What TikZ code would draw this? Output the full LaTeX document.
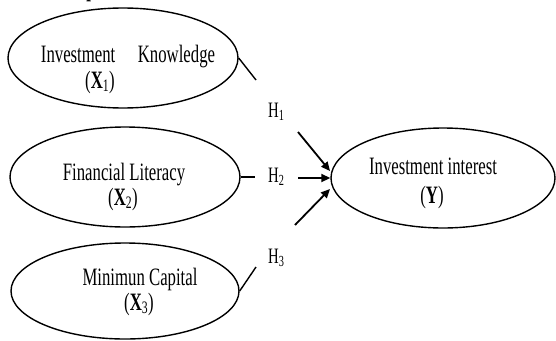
\documentclass[tikz,border=0pt]{standalone}
\usepackage{fontspec}
\setmainfont{Liberation Serif}[FakeStretch=0.67]
\usetikzlibrary{arrows.meta,shapes.geometric}
\begin{document}
\begin{tikzpicture}[x=1pt,y=-1pt,
  var/.style={draw, ellipse, line width=1.4pt, inner sep=0pt},
  lbl/.style={anchor=base, inner sep=0pt, font=\fontsize{25}{26}\selectfont},
  hyp/.style={anchor=base west, inner sep=0pt, font=\fontsize{22}{24}\selectfont},
  arr/.style={line width=1.8pt, -{Triangle[length=9pt,width=8pt]}},
  seg/.style={line width=1.4pt}]
\useasboundingbox (0,0) rectangle (556,340);
\clip (0,0) rectangle (556,340);
% cropped heading fragment
\node[anchor=base, inner sep=0pt, font=\fontsize{25}{26}\selectfont\bfseries] (pfrag) at (91,-3) {p};
% ellipses
\node[var, minimum width=230pt, minimum height=100pt] (x1) at (123,58) {};
\node[var, minimum width=230pt, minimum height=100pt] (x2) at (125,177) {};
\node[var, minimum width=228pt, minimum height=96pt] (x3) at (125,291) {};
\node[var, minimum width=224pt, minimum height=100pt] (y) at (443,178) {};
% texts
\node[lbl] (t1a) at (128,62) {Investment\hspace{0.9em}Knowledge};
\node[lbl] (t1b) at (100,88) {({\bfseries X}\textsubscript{1})};
\node[lbl] (t2a) at (124,180) {Financial Literacy};
\node[lbl] (t2b) at (123,205) {({\bfseries X}\textsubscript{2})};
\node[lbl] (t3a) at (140,285) {Minimun Capital};
\node[lbl] (t3b) at (139,310) {({\bfseries X}\textsubscript{3})};
\node[lbl] (tya) at (433,174) {Investment interest};
\node[lbl] (tyb) at (432,203) {({\bfseries Y})};
% hypothesis labels
\node[hyp] (h1) at (268,117) {H\textsubscript{1}};
\node[hyp] (h2) at (268,182) {H\textsubscript{2}};
\node[hyp] (h3) at (268,263) {H\textsubscript{3}};
% connector segments
\coordinate (e1) at (256,80);
\coordinate (e2) at (255,177);
\coordinate (e3) at (256,267);
\draw[seg] (x1.east) -- (e1);
\draw[seg] (x2.east) -- (e2);
\draw[seg] (x3.east) -- (e3);
\coordinate (s1) at (298,132);
\coordinate (s2) at (298,178);
\coordinate (s3) at (295,225);
\coordinate (a1) at (330,171);
\coordinate (a3) at (330,189);
\draw[arr] (s1) -- (a1);
\draw[arr] (s2) -- (y.west);
\draw[arr] (s3) -- (a3);
\end{tikzpicture}
\end{document}
